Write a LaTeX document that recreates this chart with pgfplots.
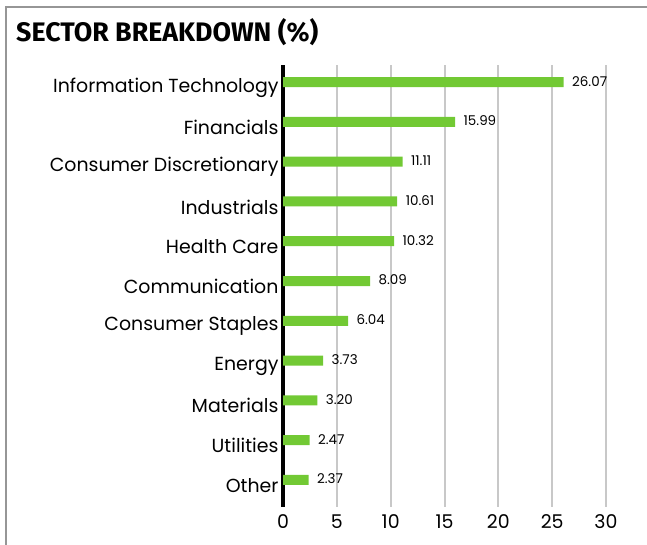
\documentclass[border=0pt]{standalone}
\usepackage{pgfplots}
\pgfplotsset{compat=1.18}
\usepackage{fontspec}
\setmainfont{Poppins}
\newfontfamily\titlefont{Fira Sans}
\definecolor{barGreen}{RGB}{114,201,52}
\definecolor{gridGray}{RGB}{200,200,200}
\definecolor{frameGray}{RGB}{150,150,150}

\begin{document}
\begin{tikzpicture}
% page = 647 x 545 px, 1px = 1bp
\useasboundingbox (0,0) rectangle (647bp,545bp);
\draw[frameGray, line width=1.5bp] (6bp,0) -- (6bp,538bp) -- (647bp,538bp);
\node[anchor=base west, inner sep=0pt] at (16bp,503bp)
  {\resizebox{302bp}{!}{\titlefont\bfseries SECTOR BREAKDOWN (\%)}};

\begin{axis}[
    scale only axis,
    anchor=south west,
    at={(283bp,38bp)},
    width=323bp, height=442bp,
    xmin=0, xmax=30,
    ymin=-0.68, ymax=10.43,
    axis y line*=left,
    axis x line*=bottom,
    x axis line style={draw=none},
    y axis line style={line width=3.5bp, black},
    xtick={0,5,...,30},
    ytick={0,...,10},
    yticklabels={Other, Utilities, Materials, Energy, Consumer Staples, Communication, Health Care, Industrials, Consumer Discretionary, Financials, Information Technology},
    major tick length=0pt,
    xmajorgrids,
    grid style={line width=2bp, gridGray},
    /pgf/number format/assume math mode=true,
    xticklabel style={font=\fontsize{19}{22}\selectfont, yshift=-4bp},
    yticklabel style={font=\fontsize{19}{22}\selectfont, xshift=-1bp, yshift=-5.5bp},
    xbar, bar width=10bp,
    nodes near coords={\pgfmathprintnumber[fixed,fixed zerofill,precision=2]{\pgfplotspointmeta}},
    nodes near coords align=horizontal,
    every node near coord/.append style={font=\fontsize{13.5}{15}\selectfont, black, xshift=5bp, yshift=1bp},
]
\addplot[draw=none, fill=barGreen] coordinates {
    (2.37,0) (2.47,1) (3.20,2) (3.73,3) (6.04,4) (8.09,5)
    (10.32,6) (10.61,7) (11.11,8) (15.99,9) (26.07,10)
};
\end{axis}
\end{tikzpicture}
\end{document}
